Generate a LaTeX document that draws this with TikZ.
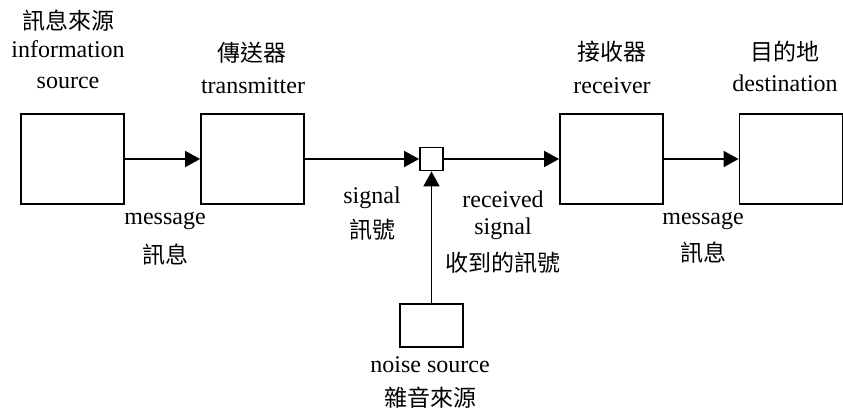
\documentclass[tikz,border=0pt]{standalone}
\usepackage{fontspec}
\setmainfont{Liberation Serif}
\newfontfamily\cjk{Noto Sans CJK TC}
\usetikzlibrary{arrows.meta}

\begin{document}
\begin{tikzpicture}[x=1pt,y=-1pt,
  block/.style={draw,line width=1.8pt,inner sep=0pt,minimum width=103pt,minimum height=90pt},
  flow/.style={line width=1.8pt,-{Triangle[length=15pt,width=16pt]}},
  en/.style={inner sep=0pt,anchor=center,font=\fontsize{24}{24}\selectfont},
  zh/.style={inner sep=0pt,anchor=center,font=\fontsize{23}{23}\selectfont\cjk}]
  \useasboundingbox (0,0) rectangle (843,415);

  % blocks of the channel
  \node[block] (src)  at (72.5,159) {};
  \node[block] (tx)   at (252.5,159) {};
  \node[block] (rx)   at (611.5,159) {};
  \node[block] (dst)  at (791,159) {};
  \node[draw,line width=1.8pt,inner sep=0pt,minimum size=23pt] (sum) at (431.5,159) {};
  \node[draw,line width=1.8pt,inner sep=0pt,minimum width=63pt,minimum height=43pt] (noise) at (431.5,325.5) {};

  % connectors
  \draw[flow] (src.east) -- (tx.west);
  \draw[flow] (tx.east) -- (sum.west);
  \draw[flow] (sum.east) -- (rx.west);
  \draw[flow] (rx.east) -- (dst.west);
  \draw[flow] (noise.north) -- (sum.south);

  % titles above the blocks
  \node[zh] (srczh) at (68,21) {訊息來源};
  \node[en] (srcen1) at (68,49) {information};
  \node[en] (srcen2) at (68,83) {source};
  \node[zh] (txzh) at (252,53) {傳送器};
  \node[en] (txen) at (253,86) {transmitter};
  \node[zh] (rxzh) at (612,52) {接收器};
  \node[en] (rxen) at (612,86) {receiver};
  \node[zh] (dstzh) at (785,52) {目的地};
  \node[en] (dsten) at (785,83) {destination};

  % labels along the channel
  \node[en] (msg1) at (165,221) {message};
  \node[zh] (msg1zh) at (165,255) {訊息};
  \node[en] (sig) at (372,198) {signal};
  \node[zh] (sigzh) at (372,230) {訊號};
  \node[en] (rsig1) at (503,199) {received};
  \node[en] (rsig2) at (503,229) {signal};
  \node[zh] (rsigzh) at (503,263) {收到的訊號};
  \node[en] (msg2) at (703,221) {message};
  \node[zh] (msg2zh) at (703,253) {訊息};
  \node[en] (ns) at (430,365) {noise source};
  \node[zh] (nszh) at (430,398) {雜音來源};
\end{tikzpicture}
\end{document}
